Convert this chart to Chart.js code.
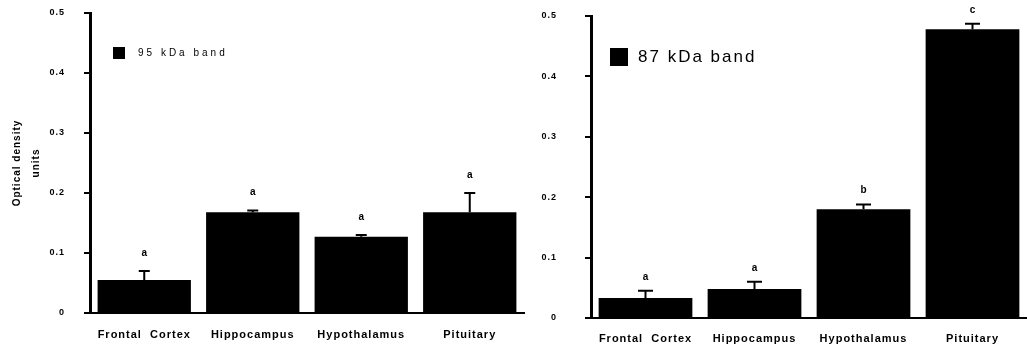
<!DOCTYPE html>
<html>
<head>
<meta charset="utf-8">
<script src="https://cdn.jsdelivr.net/npm/chart.js@4.4.0/dist/chart.umd.min.js"></script>
<style>
  body { margin: 0; background: #fff; }
  #wrap { position: relative; width: 1027px; height: 356px; }
  canvas { position: absolute; top: 0; }
</style>
</head>
<body>
<div id="wrap">
  <canvas id="chart95" width="526" height="356" style="left:0"></canvas>
  <canvas id="chart87" width="501" height="356" style="left:526px"></canvas>
</div>
<script>
const categories = ['Frontal  Cortex', 'Hippocampus', 'Hypothalamus', 'Pituitary'];
const yTickLabels = ['0', '0.1', '0.2', '0.3', '0.4', '0.5'];

const band95Values = [0.055, 0.168, 0.127, 0.168];
const band95Errors = [0.015, 0.003, 0.003, 0.032];
const band95Letters = ['a', 'a', 'a', 'a'];

const band87Values = [0.033, 0.048, 0.180, 0.478];
const band87Errors = [0.012, 0.012, 0.008, 0.009];
const band87Letters = ['a', 'a', 'b', 'c'];

const FONT = '"Liberation Sans", Arial, sans-serif';

// spread the glyphs a bit, the scanned labels are wide
const spacingPlugin = {
    id: 'spacing',
    beforeDraw(chart) {
        chart.ctx.letterSpacing = '1px';
    }
};

function errorBarPlugin(values, errors, letters, capWidth, letterGap) {
    return {
        id: 'errorBars',
        afterDatasetsDraw(chart) {
            const ctx = chart.ctx;
            const y = chart.scales.y;
            const meta = chart.getDatasetMeta(0);
            ctx.save();
            ctx.strokeStyle = '#000';
            ctx.fillStyle = '#000';
            ctx.lineWidth = 2;
            ctx.letterSpacing = '0px';
            ctx.font = `bold 10px ${FONT}`;
            ctx.textAlign = 'center';
            ctx.textBaseline = 'middle';
            meta.data.forEach((bar, i) => {
                const top = y.getPixelForValue(values[i] + errors[i]);
                ctx.beginPath();
                ctx.moveTo(bar.x, y.getPixelForValue(values[i]));
                ctx.lineTo(bar.x, top);
                ctx.moveTo(bar.x - capWidth / 2, top);
                ctx.lineTo(bar.x + capWidth / 2, top);
                ctx.stroke();
                ctx.fillText(letters[i], bar.x, top - letterGap);
            });
            ctx.restore();
        }
    };
}

function legendPlugin(box) {
    return {
        id: 'bandLegend',
        afterDraw(chart) {
            const ctx = chart.ctx;
            const area = chart.chartArea;
            const x = area.left + box.dx;
            const y = area.top + box.dy;
            ctx.save();
            ctx.fillStyle = '#000';
            ctx.fillRect(x, y, box.size, box.size);
            ctx.font = box.font;
            ctx.letterSpacing = box.spacing;
            ctx.textBaseline = 'middle';
            ctx.fillText(chart.data.datasets[0].label, x + box.size + box.gap, y + box.size / 2);
            ctx.restore();
        }
    };
}

function buildChart(canvasId, label, values, cfg, plugins) {
    return new Chart(document.getElementById(canvasId), {
        type: 'bar',
        data: {
            labels: categories,
            datasets: [{
                label: label,
                data: values,
                backgroundColor: '#000',
                borderWidth: 0,
                barPercentage: 0.86,
                categoryPercentage: 1
            }]
        },
        options: {
            responsive: false,
            animation: false,
            devicePixelRatio: 1,
            layout: { padding: { top: cfg.top, right: cfg.right, left: 0, bottom: 0 } },
            plugins: {
                legend: { display: false },
                tooltip: { enabled: false }
            },
            scales: {
                x: {
                    grid: { display: false, drawTicks: false },
                    border: { display: true, color: '#000', width: 2 },
                    ticks: {
                        color: '#000',
                        font: { family: FONT, size: 11, weight: 'bold' },
                        padding: cfg.xPad,
                        autoSkip: false,
                        maxRotation: 0
                    },
                    afterFit: s => { s.height = cfg.xHeight; }
                },
                y: {
                    min: 0,
                    max: 0.5,
                    ticks: {
                        stepSize: 0.1,
                        color: '#000',
                        font: { family: FONT, size: 9, weight: 'bold' },
                        padding: cfg.yPad,
                        callback: v => yTickLabels[Math.round(v * 10)]
                    },
                    grid: { drawOnChartArea: false, color: '#000', lineWidth: 2, tickLength: 6 },
                    border: { color: '#000', width: 3 },
                    title: {
                        display: !!cfg.title,
                        text: cfg.title,
                        color: '#000',
                        font: { family: FONT, size: 10, weight: 'bold', lineHeight: 1.9 },
                        padding: { top: 8, bottom: 0 }
                    },
                    // fixed axis width; drop the label padding so the top follows layout.padding
                    afterFit: s => {
                        s.width = cfg.yWidth;
                        s.paddingTop = 0;
                        s.paddingBottom = 0;
                    }
                }
            }
        },
        plugins: [spacingPlugin].concat(plugins)
    });
}

buildChart('chart95', '95 kDa band', band95Values,
    { top: 13, right: 2, xHeight: 43, xPad: 15, yWidth: 90, yPad: 19, title: ['Optical density', 'units'] },
    [
        errorBarPlugin(band95Values, band95Errors, band95Letters, 11, 18),
        legendPlugin({ dx: 23, dy: 34, size: 12, gap: 13, font: `10px ${FONT}`, spacing: '3px' })
    ]);

buildChart('chart87', '87 kDa band', band87Values,
    { top: 16, right: 0, xHeight: 38, xPad: 14, yWidth: 65, yPad: 28, title: null },
    [
        errorBarPlugin(band87Values, band87Errors, band87Letters, 15, 14),
        legendPlugin({ dx: 19, dy: 32, size: 18, gap: 10, font: `17px ${FONT}`, spacing: '2px' })
    ]);
</script>
</body>
</html>
